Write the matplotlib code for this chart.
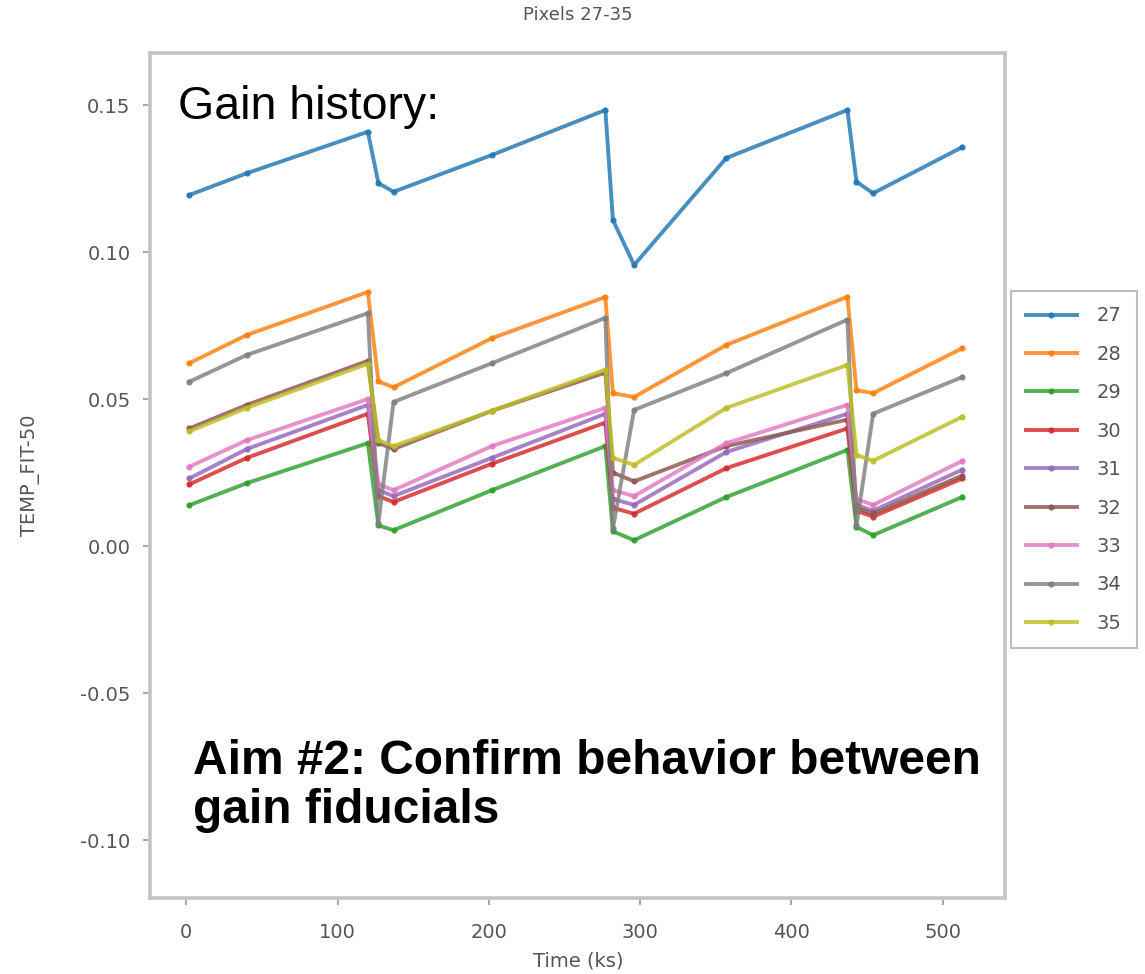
import matplotlib
matplotlib.use("Agg")
import matplotlib.pyplot as plt

# Time stamps of the gain fits (ks)
time_ks = [2, 40, 120, 127, 137, 202, 277, 282, 296, 357, 437, 443, 454, 513]

# TEMP_FIT-50 per pixel
pix27 = [0.1194, 0.1268, 0.1409, 0.1234, 0.1205, 0.1330, 0.1483, 0.1109, 0.0956, 0.1320, 0.1483, 0.1239, 0.1200, 0.1357]
pix28 = [0.0622, 0.0718, 0.0864, 0.0560, 0.0540, 0.0707, 0.0847, 0.0520, 0.0507, 0.0684, 0.0848, 0.0530, 0.0520, 0.0673]
pix29 = [0.0139, 0.0214, 0.0350, 0.0070, 0.0054, 0.0190, 0.0340, 0.0050, 0.0020, 0.0167, 0.0327, 0.0065, 0.0037, 0.0167]
pix30 = [0.0210, 0.0300, 0.0450, 0.0170, 0.0150, 0.0280, 0.0420, 0.0130, 0.0110, 0.0265, 0.0400, 0.0120, 0.0100, 0.0230]
pix31 = [0.0230, 0.0330, 0.0480, 0.0190, 0.0170, 0.0300, 0.0450, 0.0160, 0.0140, 0.0320, 0.0450, 0.0140, 0.0120, 0.0260]
pix32 = [0.0400, 0.0480, 0.0630, 0.0350, 0.0330, 0.0460, 0.0590, 0.0250, 0.0220, 0.0340, 0.0430, 0.0130, 0.0110, 0.0240]
pix33 = [0.0270, 0.0360, 0.0500, 0.0210, 0.0190, 0.0340, 0.0470, 0.0190, 0.0170, 0.0350, 0.0480, 0.0160, 0.0140, 0.0290]
pix34 = [0.0559, 0.0650, 0.0792, 0.0080, 0.0490, 0.0622, 0.0776, 0.0060, 0.0463, 0.0588, 0.0770, 0.0070, 0.0450, 0.0575]
pix35 = [0.0390, 0.0470, 0.0620, 0.0360, 0.0340, 0.0460, 0.0600, 0.0300, 0.0276, 0.0470, 0.0616, 0.0310, 0.0290, 0.0440]

pixel_labels = ["27", "28", "29", "30", "31", "32", "33", "34", "35"]
series = [pix27, pix28, pix29, pix30, pix31, pix32, pix33, pix34, pix35]

x_ticks = [0, 100, 200, 300, 400, 500]
y_ticks = [-0.10, -0.05, 0.00, 0.05, 0.10, 0.15]
y_tick_labels = ["-0.10", "-0.05", "0.00", "0.05", "0.10", "0.15"]

fig = plt.figure(figsize=(11.45, 9.74), dpi=100)
ax = fig.add_axes([0.131, 0.078, 0.7465, 0.8676])

for lab, vals in zip(pixel_labels, series):
    ax.plot(time_ks, vals, marker=".", markersize=7, linewidth=2.8, alpha=0.82, label=lab)

ax.set_xlim(-24, 541)
ax.set_ylim(-0.1197, 0.1677)
ax.set_xticks(x_ticks)
ax.set_yticks(y_ticks)
ax.set_yticklabels(y_tick_labels)

for sp in ax.spines.values():
    sp.set_color("#c4c4c4")
    sp.set_linewidth(2.6)
ax.tick_params(axis="both", labelsize=14, colors="#aaaaaa", labelcolor="#555555",
               length=5, width=1.5)
ax.tick_params(axis="y", pad=9)
ax.tick_params(axis="x", pad=13)

fig.text(578 / 1145, 1 - 15 / 974, "Pixels 27-35", fontsize=13, color="#555555",
         ha="center", va="center")
fig.text(578 / 1145, 1 - 961 / 974, "Time (ks)", fontsize=14, color="#555555",
         ha="center", va="center")
fig.text(30 / 1145, 1 - 475 / 974, "TEMP_FIT-50", fontsize=14, color="#555555",
         ha="center", va="center", rotation=90)

leg = ax.legend(loc="center left", bbox_to_anchor=(1.0, 0.507), borderaxespad=0.3,
                fontsize=14, handlelength=2.6, handletextpad=1.0, labelspacing=1.0,
                borderpad=0.8, framealpha=1.0, fancybox=False, edgecolor="#bdbdbd")
leg.get_frame().set_linewidth(1.5)
for t in leg.get_texts():
    t.set_color("#555555")

# Slide annotations
fig.text(178 / 1145, 1 - 119 / 974, "Gain history:", fontsize=33.5,
         family="Liberation Sans", color="black", ha="left", va="baseline")
fig.text(193 / 1145, 1 - 823 / 974, "Aim #2: Confirm behavior between\ngain fiducials",
         fontsize=34.5, family="Liberation Sans", fontweight="bold", color="black",
         ha="left", va="baseline", linespacing=1.12)

fig.savefig("out.png", dpi=100)
